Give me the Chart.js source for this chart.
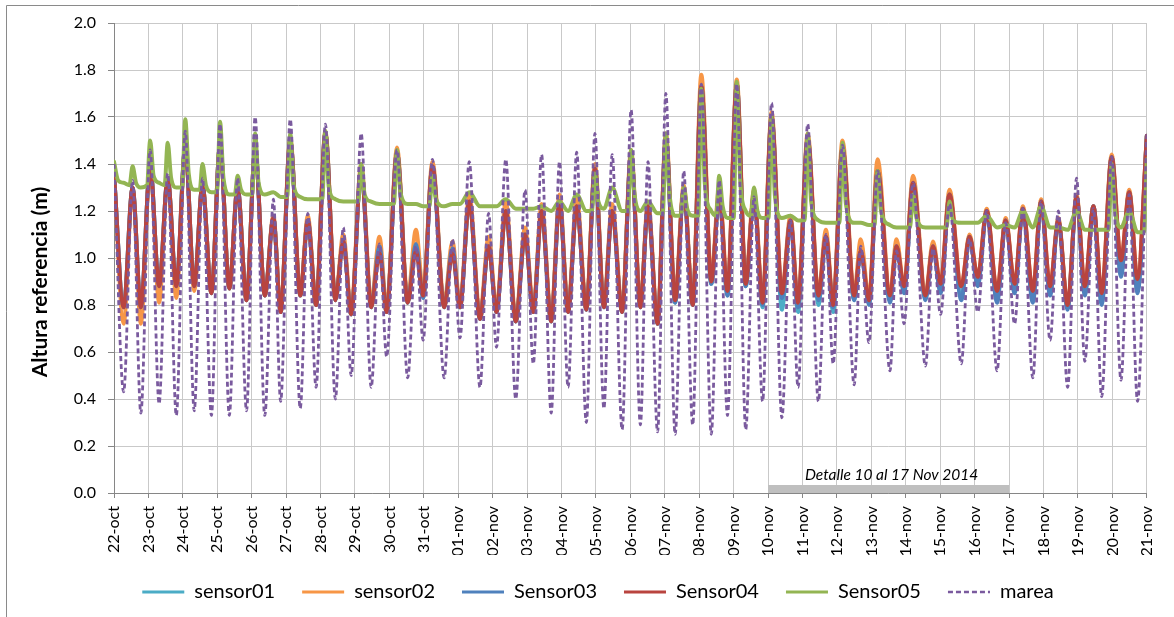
<!DOCTYPE html>
<html>
<head>
<meta charset="utf-8">
<script src="https://cdn.jsdelivr.net/npm/chart.js@4.4.1/dist/chart.umd.min.js"></script>
<style>
    html, body { margin: 0; padding: 0; background: #fff; }
    canvas { display: block; }
</style>
</head>
<body>
<canvas id="tideChart" width="1174" height="617"></canvas>
<script>
// Etiquetas del eje X (un dia por marca, 0 = 22-oct)
const dayLabels = ['22-oct','23-oct','24-oct','25-oct','26-oct','27-oct','28-oct','29-oct','30-oct','31-oct',
    '01-nov','02-nov','03-nov','04-nov','05-nov','06-nov','07-nov','08-nov','09-nov','10-nov',
    '11-nov','12-nov','13-nov','14-nov','15-nov','16-nov','17-nov','18-nov','19-nov','20-nov','21-nov'];

// Instantes (dias desde 22-oct) de pleamares y bajamares
const tDays = [0.00,0.28,0.54,0.78,1.05,1.31,1.56,1.81,2.07,2.33,
    2.57,2.83,3.08,3.35,3.59,3.85,4.10,4.38,4.63,4.84,
    5.12,5.41,5.63,5.87,6.14,6.43,6.66,6.89,7.18,7.47,
    7.71,7.92,8.22,8.53,8.77,8.98,9.25,9.59,9.83,10.05,
    10.32,10.63,10.88,11.11,11.38,11.67,11.94,12.18,12.42,12.70,
    12.94,13.19,13.44,13.72,13.97,14.23,14.47,14.76,15.02,15.29,
    15.51,15.79,16.03,16.30,16.55,16.81,17.06,17.35,17.58,17.82,
    18.09,18.35,18.59,18.84,19.10,19.40,19.65,19.87,20.15,20.46,
    20.68,20.89,21.16,21.50,21.69,21.93,22.18,22.54,22.73,22.95,
    23.21,23.57,23.79,24.01,24.27,24.61,24.85,25.09,25.35,25.65,
    25.90,26.16,26.40,26.69,26.93,27.19,27.43,27.70,27.96,28.20,
    28.45,28.69,28.98,29.25,29.49,29.73,30.00];

const marea = [1.40,0.43,1.33,0.34,1.46,0.38,1.36,0.33,1.54,0.35,
    1.34,0.33,1.57,0.33,1.34,0.35,1.60,0.33,1.25,0.39,
    1.59,0.36,1.19,0.45,1.57,0.40,1.13,0.50,1.53,0.45,
    1.06,0.58,1.46,0.49,1.05,0.65,1.42,0.49,1.08,0.66,
    1.41,0.45,1.19,0.62,1.42,0.40,1.29,0.55,1.44,0.34,
    1.41,0.45,1.45,0.30,1.53,0.36,1.44,0.27,1.63,0.29,
    1.41,0.26,1.70,0.25,1.37,0.29,1.74,0.25,1.33,0.33,
    1.74,0.27,1.26,0.39,1.66,0.32,1.16,0.45,1.57,0.39,
    1.10,0.55,1.48,0.46,1.05,0.64,1.37,0.52,1.03,0.72,
    1.32,0.54,1.04,0.76,1.23,0.55,1.08,0.77,1.20,0.52,
    1.15,0.72,1.21,0.49,1.24,0.65,1.20,0.45,1.34,0.56,
    1.21,0.41,1.43,0.48,1.27,0.39,1.53];

const sensor01 = [1.36,0.79,1.30,0.79,1.39,0.88,1.34,0.88,1.47,0.88,
    1.31,0.85,1.48,0.87,1.30,0.82,1.46,0.84,1.17,0.77,
    1.50,0.84,1.16,0.80,1.53,0.82,1.07,0.76,1.38,0.79,
    1.04,0.77,1.45,0.81,1.05,0.83,1.39,0.79,1.03,0.79,
    1.24,0.74,1.05,0.77,1.20,0.73,1.10,0.77,1.20,0.73,
    1.24,0.77,1.22,0.78,1.38,0.79,1.20,0.77,1.44,0.79,
    1.22,0.72,1.51,0.81,1.29,0.80,1.73,0.89,1.27,0.84,
    1.74,0.88,1.27,0.79,1.60,0.78,1.16,0.77,1.51,0.80,
    1.09,0.77,1.47,0.82,1.03,0.81,1.37,0.82,1.05,0.86,
    1.32,0.83,1.05,0.86,1.27,0.83,1.09,0.89,1.20,0.82,
    1.16,0.86,1.21,0.82,1.24,0.85,1.16,0.79,1.26,0.85,
    1.22,0.81,1.43,0.93,1.28,0.86,1.52];

const sensor02 = [1.36,0.72,1.30,0.72,1.39,0.81,1.34,0.83,1.47,0.86,
    1.31,0.85,1.48,0.87,1.30,0.82,1.46,0.84,1.18,0.78,
    1.51,0.85,1.18,0.81,1.54,0.83,1.10,0.78,1.40,0.81,
    1.09,0.79,1.47,0.83,1.12,0.86,1.41,0.81,1.07,0.81,
    1.27,0.76,1.09,0.79,1.24,0.75,1.13,0.79,1.23,0.75,
    1.27,0.79,1.26,0.80,1.40,0.81,1.23,0.79,1.46,0.81,
    1.24,0.74,1.53,0.84,1.31,0.82,1.78,0.92,1.30,0.88,
    1.76,0.91,1.29,0.83,1.62,0.86,1.18,0.82,1.53,0.85,
    1.12,0.81,1.50,0.85,1.08,0.83,1.42,0.85,1.08,0.88,
    1.35,0.85,1.07,0.89,1.29,0.88,1.10,0.92,1.21,0.86,
    1.17,0.89,1.22,0.86,1.25,0.88,1.17,0.80,1.27,0.88,
    1.22,0.85,1.44,0.99,1.29,0.91,1.52];

const sensor03 = [1.36,0.79,1.30,0.79,1.39,0.88,1.34,0.88,1.47,0.88,
    1.31,0.85,1.48,0.87,1.30,0.82,1.46,0.84,1.17,0.77,
    1.50,0.84,1.16,0.80,1.53,0.82,1.07,0.76,1.38,0.79,
    1.05,0.77,1.45,0.81,1.06,0.83,1.39,0.79,1.04,0.79,
    1.24,0.74,1.05,0.77,1.20,0.73,1.10,0.77,1.20,0.73,
    1.24,0.77,1.22,0.78,1.38,0.79,1.20,0.77,1.44,0.79,
    1.22,0.72,1.51,0.81,1.29,0.80,1.73,0.89,1.27,0.84,
    1.74,0.88,1.27,0.80,1.60,0.83,1.16,0.79,1.51,0.82,
    1.09,0.79,1.47,0.82,1.03,0.80,1.37,0.81,1.05,0.85,
    1.32,0.82,1.05,0.85,1.27,0.82,1.09,0.88,1.20,0.81,
    1.16,0.85,1.21,0.81,1.24,0.84,1.16,0.78,1.26,0.84,
    1.22,0.80,1.43,0.92,1.28,0.85,1.52];

const sensor04 = [1.36,0.79,1.30,0.79,1.39,0.88,1.34,0.88,1.47,0.88,
    1.31,0.85,1.48,0.87,1.30,0.82,1.46,0.84,1.17,0.77,
    1.50,0.84,1.16,0.80,1.53,0.82,1.07,0.76,1.38,0.79,
    1.02,0.77,1.45,0.81,1.03,0.84,1.39,0.79,1.02,0.79,
    1.24,0.74,1.05,0.77,1.20,0.73,1.10,0.77,1.20,0.73,
    1.24,0.77,1.22,0.78,1.38,0.79,1.20,0.77,1.44,0.79,
    1.22,0.72,1.51,0.82,1.29,0.80,1.73,0.90,1.27,0.86,
    1.74,0.89,1.27,0.81,1.60,0.85,1.16,0.81,1.51,0.84,
    1.09,0.80,1.47,0.84,1.03,0.82,1.37,0.84,1.05,0.88,
    1.32,0.84,1.05,0.89,1.27,0.88,1.09,0.92,1.20,0.86,
    1.16,0.89,1.21,0.86,1.24,0.88,1.16,0.80,1.26,0.88,
    1.22,0.85,1.43,0.99,1.28,0.91,1.52];

// Sensor05 tiene picos estrechos sobre una linea base casi plana: su propia serie de instantes
const tGreen = [0.00,0.12,0.28,0.45,0.54,0.64,0.78,0.96,1.05,1.15,
    1.31,1.47,1.56,1.66,1.81,1.98,2.07,2.17,2.33,2.49,
    2.57,2.67,2.83,2.99,3.08,3.18,3.35,3.51,3.59,3.69,
    3.85,4.01,4.10,4.20,4.38,4.63,4.84,5.03,5.12,5.22,
    5.41,5.63,5.87,6.05,6.14,6.24,6.43,6.66,6.89,7.09,
    7.18,7.28,7.47,7.71,7.92,8.13,8.22,8.32,8.53,8.77,
    8.98,9.16,9.25,9.35,9.59,9.83,10.05,10.32,10.63,10.88,
    11.11,11.38,11.67,11.94,12.18,12.42,12.70,12.94,13.19,13.44,
    13.72,13.88,13.97,14.07,14.23,14.47,14.76,14.93,15.02,15.12,
    15.29,15.51,15.79,15.94,16.03,16.13,16.30,16.46,16.55,16.65,
    16.81,16.97,17.06,17.16,17.35,17.49,17.58,17.68,17.82,18.00,
    18.09,18.19,18.35,18.50,18.59,18.69,18.84,19.01,19.10,19.20,
    19.40,19.65,19.87,20.06,20.15,20.25,20.46,20.68,20.89,21.07,
    21.16,21.26,21.50,21.69,21.93,22.09,22.18,22.28,22.54,22.73,
    22.95,23.12,23.21,23.31,23.57,23.79,24.01,24.18,24.27,24.37,
    24.61,24.85,25.09,25.35,25.65,25.90,26.16,26.40,26.69,26.93,
    27.19,27.43,27.70,27.96,28.20,28.45,28.69,28.89,28.98,29.08,
    29.25,29.49,29.73,29.92,30.00];

const sensor05 = [1.41,1.33,1.32,1.31,1.39,1.32,1.30,1.31,1.50,1.35,
    1.32,1.31,1.49,1.34,1.30,1.30,1.59,1.36,1.29,1.29,
    1.40,1.31,1.28,1.28,1.58,1.34,1.27,1.27,1.35,1.29,
    1.27,1.27,1.53,1.32,1.27,1.28,1.26,1.26,1.53,1.31,
    1.26,1.25,1.25,1.25,1.54,1.30,1.25,1.24,1.24,1.24,
    1.40,1.27,1.24,1.23,1.23,1.23,1.46,1.28,1.23,1.23,
    1.22,1.22,1.35,1.25,1.22,1.23,1.23,1.28,1.22,1.22,
    1.22,1.25,1.21,1.21,1.21,1.22,1.20,1.24,1.20,1.27,
    1.20,1.20,1.36,1.24,1.21,1.30,1.20,1.20,1.46,1.27,
    1.20,1.24,1.19,1.19,1.53,1.28,1.18,1.18,1.30,1.21,
    1.18,1.18,1.72,1.32,1.20,1.18,1.35,1.22,1.17,1.17,
    1.75,1.33,1.20,1.18,1.30,1.20,1.17,1.17,1.60,1.26,
    1.17,1.18,1.16,1.16,1.53,1.24,1.16,1.15,1.15,1.15,
    1.49,1.23,1.15,1.15,1.14,1.14,1.37,1.20,1.14,1.13,
    1.13,1.13,1.27,1.17,1.13,1.13,1.13,1.13,1.24,1.16,
    1.15,1.15,1.15,1.18,1.13,1.14,1.13,1.20,1.13,1.22,
    1.13,1.13,1.12,1.20,1.12,1.12,1.12,1.12,1.40,1.20,
    1.13,1.20,1.11,1.11,1.42];

// Periodo de detalle: 10-nov a 17-nov
const detailDays = [19, 26];
const detailText = 'Detalle 10 al 17 Nov 2014';

const FONT = 'Lato, "Open Sans", sans-serif';
const gridColor = '#c9c9c9';
const axisColor = '#868686';

const pts = (times, vals) => times.map((t, i) => ({ x: t, y: vals[i] }));

function series(label, times, vals, color, order, extra) {
    return Object.assign({
        label: label,
        data: pts(times, vals),
        borderColor: color,
        backgroundColor: color,
        borderWidth: 4,
        borderJoinStyle: 'round',
        borderCapStyle: 'round',
        pointRadius: 0,
        fill: false,
        order: order
    }, extra || {});
}

// Marco exterior, barra de detalle y titulo del eje Y
const decor = {
    id: 'decor',
    beforeDraw(chart) {
        const c = chart.ctx;
        c.save();
        c.strokeStyle = '#8a8a8a';
        c.lineWidth = 1;
        c.beginPath();
        c.moveTo(6.5, chart.height);
        c.lineTo(6.5, 5.5);
        c.lineTo(chart.width, 5.5);
        c.stroke();
        c.restore();
    },
    beforeDatasetsDraw(chart) {
        const c = chart.ctx;
        const xs = chart.scales.x, ys = chart.scales.y;
        const x1 = xs.getPixelForValue(detailDays[0]);
        const x2 = xs.getPixelForValue(detailDays[1]);
        const y0 = ys.getPixelForValue(0);
        c.save();
        c.fillStyle = '#bfbfbf';
        c.fillRect(x1, y0 - 8, x2 - x1, 8);
        c.fillStyle = '#000';
        c.font = 'italic 15.5px ' + FONT;
        c.textAlign = 'center';
        c.textBaseline = 'alphabetic';
        c.fillText(detailText, (x1 + x2) / 2 + 3, y0 - 13);
        c.restore();
    },
    afterDraw(chart) {
        const c = chart.ctx;
        c.save();
        c.translate(40, 282);
        c.rotate(-Math.PI / 2);
        c.fillStyle = '#000';
        c.font = 'bold 21px ' + FONT;
        c.textAlign = 'center';
        c.textBaseline = 'middle';
        c.fillText('Altura referencia (m)', 0, 0);
        c.restore();
    }
};

const defaultLabels = Chart.defaults.plugins.legend.labels.generateLabels;

new Chart(document.getElementById('tideChart'), {
    type: 'line',
    data: {
        datasets: [
            series('sensor01', tDays, sensor01, '#4BACC6', 5),
            series('sensor02', tDays, sensor02, '#F79646', 4),
            series('Sensor03', tDays, sensor03, '#4F81BD', 3),
            series('Sensor04', tDays, sensor04, '#B9443F', 2),
            series('Sensor05', tGreen, sensor05, '#93B553', 1),
            series('marea', tDays, marea, '#7A5A9E', 0, { borderWidth: 2.8, borderDash: [5, 3], borderCapStyle: 'butt' })
        ]
    },
    options: {
        responsive: false,
        animation: false,
        layout: { padding: { top: 23, right: 25, left: 47, bottom: 5 } },
        elements: { line: { cubicInterpolationMode: 'monotone' } },
        scales: {
            x: {
                type: 'linear',
                min: 0,
                max: 30,
                afterFit: s => { s.height = 62; },
                border: { color: axisColor, width: 1 },
                grid: { color: gridColor, tickColor: axisColor, tickLength: 5 },
                ticks: {
                    stepSize: 1,
                    autoSkip: false,
                    maxRotation: 90,
                    minRotation: 90,
                    padding: 8,
                    color: '#000',
                    font: { family: FONT, size: 16 },
                    callback: v => dayLabels[v]
                }
            },
            y: {
                min: 0,
                max: 2,
                afterFit: s => { s.width = 67; },
                border: { color: axisColor, width: 1 },
                grid: { color: gridColor, tickColor: axisColor, tickLength: 6 },
                ticks: {
                    stepSize: 0.2,
                    padding: 12,
                    color: '#000',
                    font: { family: FONT, size: 16 },
                    callback: v => v.toFixed(1)
                }
            }
        },
        plugins: {
            legend: {
                position: 'bottom',
                labels: {
                    usePointStyle: true,
                    pointStyle: 'line',
                    pointStyleWidth: 42,
                    padding: 27,
                    color: '#000',
                    font: { family: FONT, size: 20 },
                    sort: (a, b) => a.datasetIndex - b.datasetIndex,
                    generateLabels: chart => defaultLabels(chart).map(l => {
                        const ds = chart.data.datasets[l.datasetIndex];
                        return Object.assign(l, {
                            lineWidth: ds.borderDash ? 2.5 : 3,
                            lineDash: ds.borderDash || [],
                            strokeStyle: ds.borderColor
                        });
                    })
                }
            },
            tooltip: { enabled: false }
        }
    },
    plugins: [decor]
});
</script>
</body>
</html>
